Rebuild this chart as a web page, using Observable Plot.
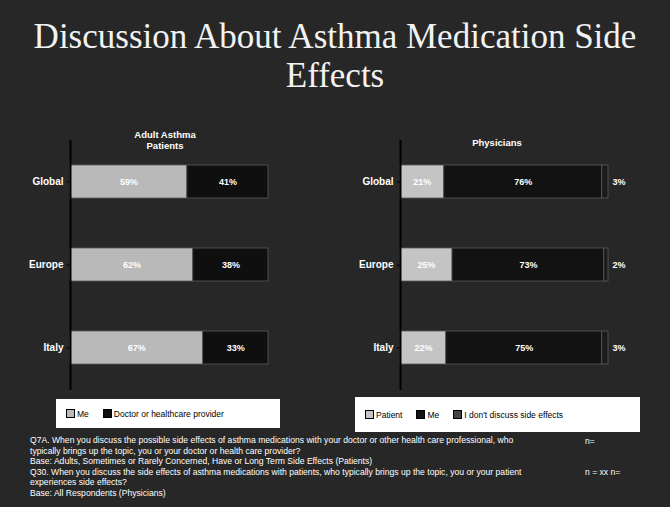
<!DOCTYPE html>
<html>
<head>
<meta charset="utf-8">
<script src="https://cdn.jsdelivr.net/npm/d3@7"></script>
<script src="https://cdn.jsdelivr.net/npm/@observablehq/plot@0.6"></script>
<style>
  html, body { margin: 0; padding: 0; }
  body { width: 670px; height: 507px; background: #272727; position: relative; overflow: hidden; font-family: "Liberation Sans", Arial, sans-serif; color: #fff; }
  .title { position: absolute; left: 0; width: 670px; top: 17px; text-align: center; font-family: "Liberation Serif", "Times New Roman", serif; font-size: 35px; line-height: 39px; color: #f2f2f2; }
  .ptitle { position: absolute; text-align: center; font-weight: bold; font-size: 9.5px; line-height: 11px; color: #fff; }
  .chart { position: absolute; }
  .legend { position: absolute; background: #fff; color: #000; font-size: 8.5px; display: flex; align-items: center; gap: 14px; padding-left: 10px; box-sizing: border-box; }
  .legend span.sw { display: inline-block; width: 7px; height: 7px; border: 1px solid #000; margin-right: 2px; vertical-align: -1px; }
  .foot { position: absolute; left: 30px; top: 435px; font-size: 8.6px; line-height: 10.5px; color: #fff; width: 560px; white-space: nowrap; }
  .footr { position: absolute; left: 585px; font-size: 8.6px; color: #fff; }
</style>
</head>
<body>
<div class="title">Discussion About Asthma Medication Side<br>Effects</div>
<div class="ptitle" style="left:105px; top:129px; width:120px;">Adult Asthma<br>Patients</div>
<div class="ptitle" style="left:447px; top:137px; width:100px;">Physicians</div>
<div id="left" class="chart" style="left:0px; top:130px;"></div>
<div id="right" class="chart" style="left:335px; top:130px;"></div>
<div id="legL" class="legend" style="left:56px; top:399px; width:224px; height:29px;"></div>
<div id="legR" class="legend" style="left:355px; top:397px; width:285px; height:35px;"></div>
<div id="foot" class="foot"></div>
<div class="footr" style="top:436px;">n=</div>
<div class="footr" style="top:467px;">n = xx n=</div>
<script>
// ---- data ----
const regions = ["Global", "Europe", "Italy"];
const patientSeries = ["Me", "Doctor or healthcare provider"];
const patientMe =     [59, 62, 67];
const patientDoctor = [41, 38, 33];

const physSeries = ["Patient", "Me", "I don't discuss side effects"];
const physPatient = [21, 25, 22];
const physMe =      [76, 73, 75];
const physNone =    [3, 2, 3];

const footLines = [
  "Q7A. When you discuss the possible side effects of asthma medications with your doctor or other health care professional, who",
  "typically brings up the topic, you or your doctor or health care provider?",
  "Base: Adults, Sometimes or Rarely Concerned, Have or Long Term Side Effects (Patients)",
  "Q30. When you discuss the side effects of asthma medications with patients, who typically brings up the topic, you or your patient",
  "experiences side effects?",
  "Base: All Respondents (Physicians)"
];

// ---- tables ----
const leftData = [];
regions.forEach((r, i) => {
  leftData.push({region: r, series: patientSeries[0], value: patientMe[i]});
  leftData.push({region: r, series: patientSeries[1], value: patientDoctor[i]});
});
const rightData = [];
regions.forEach((r, i) => {
  rightData.push({region: r, series: physSeries[0], value: physPatient[i]});
  rightData.push({region: r, series: physSeries[1], value: physMe[i]});
  rightData.push({region: r, series: physSeries[2], value: physNone[i]});
});

const leftColors = ["#b9b9b9", "#0f0f0f"];
const rightColors = ["#c4c4c4", "#121212", "#1b1b1b"];

function panel(data, series, colors, opts) {
  const inside = data.filter(d => d.series !== series[2]);
  const outside = data.filter(d => d.series === series[2]);
  return Plot.plot({
    width: opts.width,
    height: 270,
    marginTop: 10,
    marginBottom: 10,
    marginLeft: opts.marginLeft,
    marginRight: opts.marginRight,
    style: {background: "transparent", color: "#fff", fontFamily: "Liberation Sans, Arial, sans-serif"},
    x: {domain: [0, 100], axis: null},
    y: {domain: regions, paddingInner: 0.6, paddingOuter: 0.3, label: null},
    color: {domain: series, range: colors},
    marks: [
      Plot.barX(data, Plot.stackX({x: "value", y: "region", fill: "series", order: series, stroke: "#5a5a5a", strokeWidth: 0.8})),
      Plot.text(inside, Plot.stackX({x: "value", y: "region", z: "series", order: series, text: d => d.value + "%", fill: "#fff", fontSize: 9, fontWeight: "bold"})),
      Plot.text(outside, {x: 100, y: "region", text: d => d.value + "%", fill: "#fff", fontSize: 9, fontWeight: "bold", dx: 4, textAnchor: "start"}),
      Plot.ruleX([0], {stroke: "#000", strokeWidth: 2}),
      Plot.axisY({tickSize: 3, stroke: "#000", fill: "#fff", fontSize: 10, fontWeight: "bold", tickPadding: 4, label: null})
    ]
  });
}

document.getElementById("left").append(panel(leftData, patientSeries, leftColors, {width: 300, marginLeft: 70, marginRight: 32}));
document.getElementById("right").append(panel(rightData, physSeries, rightColors, {width: 335, marginLeft: 65, marginRight: 62}));

function legend(id, series, colors) {
  const el = document.getElementById(id);
  series.forEach((s, i) => {
    const item = document.createElement("div");
    const sw = document.createElement("span");
    sw.className = "sw";
    sw.style.background = colors[i] === "#1b1b1b" ? "#444" : colors[i];
    item.append(sw, document.createTextNode(s));
    el.append(item);
  });
}
legend("legL", patientSeries, leftColors);
legend("legR", physSeries, rightColors);

document.getElementById("foot").innerHTML = footLines.map(t => "<div>" + t + "</div>").join("");
</script>
</body>
</html>
